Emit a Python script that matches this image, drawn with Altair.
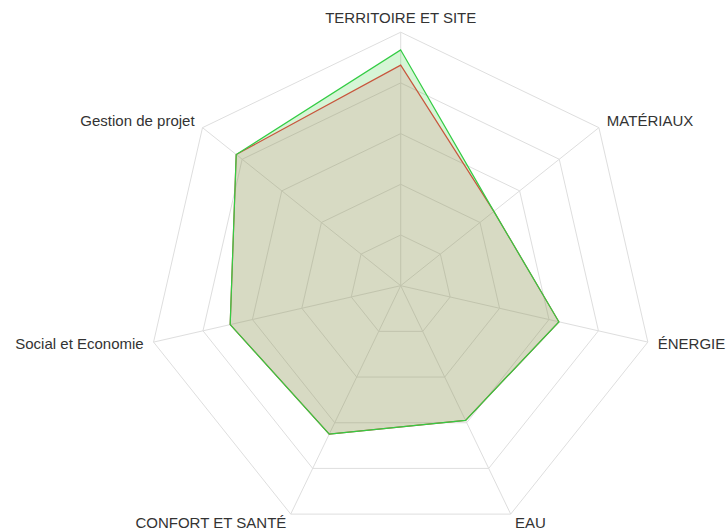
import altair as alt
import pandas as pd

# ---- data ----
categories = ["TERRITOIRE ET SITE", "MATÉRIAUX", "ÉNERGIE", "EAU",
              "CONFORT ET SANTÉ", "Social et Economie", "Gestion de projet"]
series_green = [93, 47, 64, 59, 65, 69, 83]
series_red = [87, 47, 64, 59, 65, 69, 83]
grid_levels = [20, 40, 60, 80, 100]
max_value = 100

n = len(categories)
LABEL_R = 104

green_df = pd.DataFrame({"cat": categories, "idx": list(range(n)), "value": series_green})
red_df = pd.DataFrame({"cat": categories, "idx": list(range(n)), "value": series_red})
grid_df = pd.DataFrame([{"level": lv, "idx": i} for lv in grid_levels for i in range(n)])
spoke_df = pd.DataFrame({"idx": list(range(n)), "value": [max_value] * n})
label_df = pd.DataFrame({"cat": categories, "idx": list(range(n))})

ANG = f"PI/2 - datum.idx*2*PI/{n}"

xs = alt.Scale(domain=[-158.07, 128.32], nice=False, zero=False)
ys = alt.Scale(domain=[-96.37, 112.70], nice=False, zero=False)


def polar(ch, field):
    return ch.transform_calculate(ang=ANG).transform_calculate(
        x=f"datum.{field}*cos(datum.ang)", y=f"datum.{field}*sin(datum.ang)")


grid = polar(alt.Chart(grid_df), "level").mark_line(
    interpolate="linear-closed", stroke="#dedede", strokeWidth=1
).encode(
    x=alt.X("x:Q", scale=xs, axis=None),
    y=alt.Y("y:Q", scale=ys, axis=None),
    detail="level:N",
    order=alt.Order("idx:Q"),
)

spokes = polar(alt.Chart(spoke_df), "value").transform_calculate(x0="0", y0="0").mark_rule(
    stroke="#dedede", strokeWidth=1
).encode(
    x=alt.X("x0:Q", scale=xs, axis=None),
    y=alt.Y("y0:Q", scale=ys, axis=None),
    x2="x:Q",
    y2="y:Q",
)


def poly(df, **kw):
    return polar(alt.Chart(df), "value").mark_line(interpolate="linear-closed", **kw).encode(
        x=alt.X("x:Q", scale=xs, axis=None),
        y=alt.Y("y:Q", scale=ys, axis=None),
        order=alt.Order("idx:Q"),
    )


green_fill = poly(green_df, fill="#32cd32", fillOpacity=0.2, strokeOpacity=0)
red_fill = poly(red_df, fill="#dc6e78", fillOpacity=0.2, strokeOpacity=0)
red_line = poly(red_df, stroke="#c8553c", strokeWidth=1.2)
green_line = poly(green_df, stroke="#33cc44", strokeWidth=1.2)


def labels(filter_expr, align, dy=0):
    return polar(alt.Chart(label_df), "r").transform_calculate(r=str(LABEL_R)).transform_filter(
        filter_expr
    ).mark_text(
        align=align, baseline="middle", font="Liberation Sans", fontSize=15,
        color="#333333", dy=dy
    ).encode(
        x=alt.X("x:Q", scale=xs, axis=None),
        y=alt.Y("y:Q", scale=ys, axis=None),
        text="cat:N",
    )


# fix transform order for labels: r must exist before x/y are computed
def labels2(filter_expr, align, dy=0):
    return alt.Chart(label_df).transform_calculate(r=str(LABEL_R), ang=ANG).transform_calculate(
        x="datum.r*cos(datum.ang)", y="datum.r*sin(datum.ang)"
    ).transform_filter(filter_expr).mark_text(
        align=align, baseline="middle", font="Liberation Sans", fontSize=15,
        color="#333333", dy=dy
    ).encode(
        x=alt.X("x:Q", scale=xs, axis=None),
        y=alt.Y("y:Q", scale=ys, axis=None),
        text="cat:N",
    )


lab_top = labels2("datum.idx == 0", "center", dy=-4)
lab_right = labels2("datum.idx >= 1 && datum.idx <= 3", "left")
lab_left = labels2("datum.idx >= 4", "right")

chart = alt.layer(
    grid, spokes, green_fill, red_fill, red_line, green_line, lab_top, lab_right, lab_left
).properties(
    width=726, height=530, padding=0, autosize=alt.AutoSizeParams(type="none"),
    background="white"
).configure_view(stroke=None)

chart.save("out.html", embed_options={"renderer": "svg", "actions": False})
